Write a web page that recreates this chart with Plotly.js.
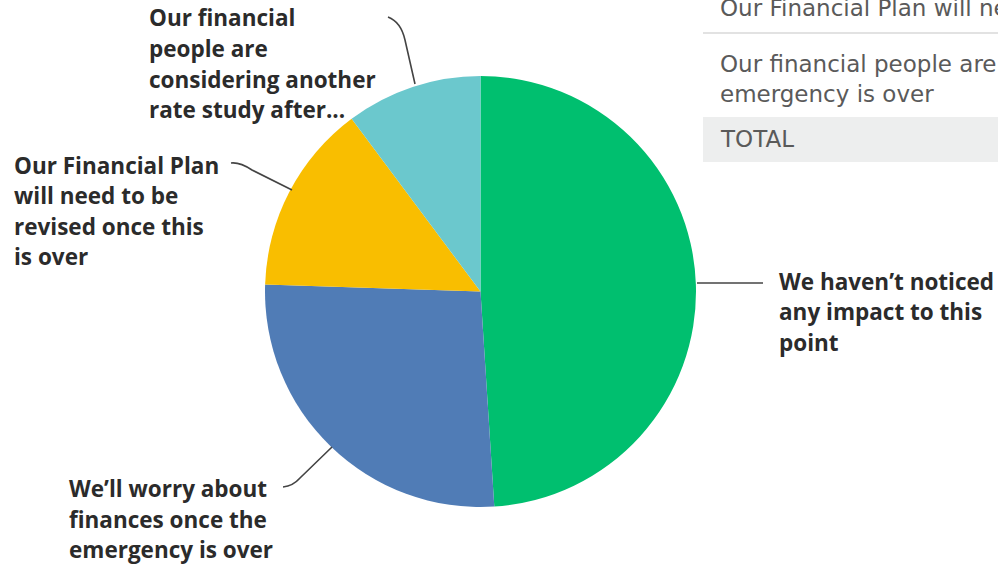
<!DOCTYPE html>
<html>
<head>
<meta charset="utf-8">
<script src="https://cdn.plot.ly/plotly-3.0.1.min.js"></script>
<style>html,body{margin:0;padding:0;background:#fff;}#chart{width:998px;height:564px;}</style>
</head>
<body>
<div id="chart"></div>
<script>
// ---- data ----
const categories = [
  "We haven’t noticed any impact to this point",
  "We’ll worry about finances once the emergency is over",
  "Our Financial Plan will need to be revised once this is over",
  "Our financial people are considering another rate study after the emergency is over"
];
const responses = [24, 13, 7, 5];
const sliceColors = ["#00BF6F", "#507CB6", "#F9BE00", "#6BC8CD"];
const labelLines = [
  ["We haven’t noticed", "any impact to this", "point"],
  ["We’ll worry about", "finances once the", "emergency is over"],
  ["Our Financial Plan", "will need to be", "revised once this", "is over"],
  ["Our financial", "people are", "considering another", "rate study after..."]
];
const tableRows = ["Our Financial Plan will need to be revised once this is over",
                   "Our financial people are considering another rate study after the",
                   "emergency is over"];
const totalLabel = "TOTAL";

// ---- layout helpers (pixel -> paper) ----
const W = 998, H = 564;
const px = x => x / W;
const py = y => 1 - y / H;

const labelPos = [
  {x: 778, y: 281}, {x: 68, y: 488.5}, {x: 13, y: 165}, {x: 148, y: 18}
];
const lineGap = 30.5;

const annotations = [];
labelLines.forEach((lines, i) => {
  lines.forEach((t, j) => {
    annotations.push({
      xref: 'paper', yref: 'paper', x: px(labelPos[i].x), y: py(labelPos[i].y + j * lineGap),
      xanchor: 'left', yanchor: 'middle', showarrow: false, text: t, borderpad: 0,
      font: {family: '"Open Sans", sans-serif', size: 22.5, color: '#2b2b2b', weight: 700}
    });
  });
});
// table text
const tableFont = {family: '"DejaVu Sans", sans-serif', size: 23, color: '#5a5a5a'};
const tableY = [8, 64, 94];
tableRows.forEach((t, i) => {
  annotations.push({xref:'paper', yref:'paper', x: px(719), y: py(tableY[i]), xanchor:'left', yanchor:'middle', showarrow:false, borderpad: 0, text: t, font: tableFont});
});
annotations.push({xref:'paper', yref:'paper', x: px(719), y: py(139), xanchor:'left', yanchor:'middle', showarrow:false, borderpad: 0, text: totalLabel, font: tableFont});

function pathPx(segs) {
  return segs.map(s => s[0] + s.slice(1).map((v, k) => k % 2 === 0 ? px(v).toFixed(5) : py(v).toFixed(5)).join(',')).join(' ');
}
const leader = {width: 1.6, color: '#444444'};
const shapes = [
  {type:'rect', xref:'paper', yref:'paper', x0: px(703), x1: px(998), y0: py(117), y1: py(162), fillcolor:'#EDEEEE', line:{width:0}, layer:'below'},
  {type:'line', xref:'paper', yref:'paper', x0: px(703), x1: px(998), y0: py(33), y1: py(33), line:{width:1.5, color:'#D9D9D9'}},
  {type:'path', xref:'paper', yref:'paper', path: pathPx([['M',697,283],['L',763,283]]), line: leader},
  {type:'path', xref:'paper', yref:'paper', path: pathPx([['M',332,447],['L',300,478],['Q',293,486,283,487]]), line: leader},
  {type:'path', xref:'paper', yref:'paper', path: pathPx([['M',231,163],['Q',240,162,252,170],['L',292,190]]), line: leader},
  {type:'path', xref:'paper', yref:'paper', path: pathPx([['M',388,17],['Q',401,22,405,40],['L',415,84]]), line: leader}
];

const trace = {
  type: 'pie',
  labels: categories,
  values: responses,
  marker: {colors: sliceColors, line: {width: 0}},
  sort: false,
  direction: 'clockwise',
  rotation: 0,
  textinfo: 'none',
  hoverinfo: 'label+percent',
  showlegend: false,
  domain: {x: [px(265), px(696)], y: [py(507), py(76)]}
};

const layout = {
  width: W, height: H,
  margin: {l: 0, r: 0, t: 0, b: 0},
  paper_bgcolor: '#ffffff',
  showlegend: false,
  annotations: annotations,
  shapes: shapes
};

Plotly.newPlot('chart', [trace], layout, {displayModeBar: false, staticPlot: true});
</script>
</body>
</html>
